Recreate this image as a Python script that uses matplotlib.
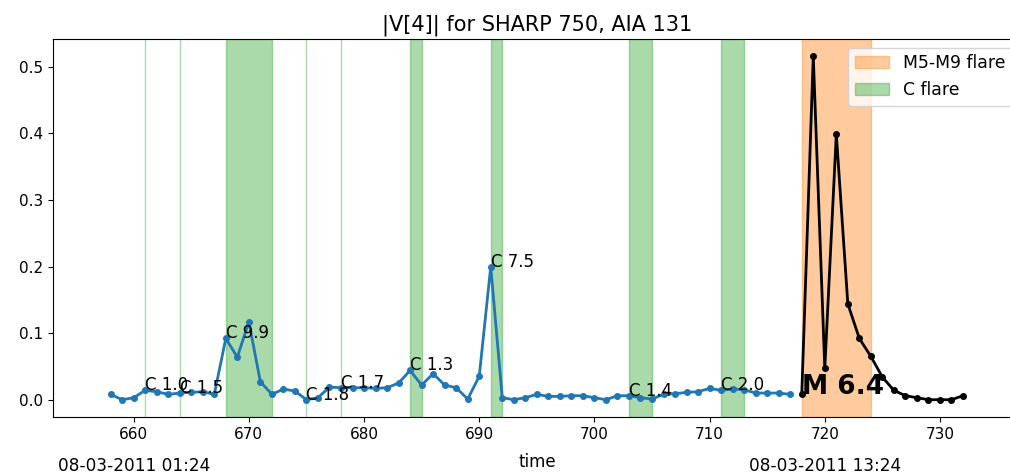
import matplotlib
matplotlib.use("Agg")
import matplotlib.pyplot as plt
import matplotlib.transforms as mtransforms
import numpy as np

# |V[4]| time series, one step = 12 minutes
quiet_t = np.arange(658, 718)
quiet_v = [0.008, 0.000, 0.003, 0.014, 0.012, 0.008, 0.010, 0.011, 0.012, 0.008,
           0.092, 0.064, 0.117, 0.027, 0.008, 0.016, 0.013, 0.000, 0.003, 0.019,
           0.018, 0.018, 0.018, 0.017, 0.018, 0.025, 0.044, 0.022, 0.039, 0.022,
           0.018, 0.001, 0.035, 0.200, 0.003, 0.000, 0.003, 0.008, 0.005, 0.005,
           0.006, 0.006, 0.003, 0.000, 0.006, 0.006, 0.003, 0.001, 0.008, 0.009,
           0.011, 0.012, 0.017, 0.014, 0.016, 0.015, 0.010, 0.010, 0.010, 0.008]

flare_t = np.arange(718, 733)
flare_v = [0.008, 0.516, 0.047, 0.399, 0.144, 0.092, 0.065, 0.034, 0.014, 0.006,
           0.003, 0.000, 0.000, 0.000, 0.006]

# C-class flares: start, end, class
c_start = [661, 664, 668, 675, 678, 684, 691, 703, 711]
c_end = [661, 664, 672, 675, 678, 685, 692, 705, 713]
c_class = ["C 1.0", "C 1.5", "C 9.9", "C 1.8", "C 1.7", "C 1.3", "C 7.5", "C 1.4", "C 2.0"]

# M-class flare
m_start, m_end, m_class = 718, 724, "M 6.4"

date_ticks = [660, 720]
date_labels = ["08-03-2011 01:24", "08-03-2011 13:24"]

fig = plt.figure(figsize=(10.1, 4.75), dpi=100)
# axes run slightly past the right edge of the figure
ax = fig.add_axes([0.0525, 0.1221, 0.958, 0.7958])

ax.axvspan(m_start, m_end, color="tab:orange", alpha=0.4, label="M5-M9 flare")
for i, (s, e) in enumerate(zip(c_start, c_end)):
    ax.axvspan(s, e, color="tab:green", alpha=0.4, label="C flare" if i == 0 else None)

ax.plot(quiet_t, quiet_v, "o-", color="tab:blue", markersize=4, lw=2)
ax.plot(flare_t, flare_v, "o-", color="black", markersize=4, lw=2)

# class labels sit on the curve at flare start
lookup = dict(zip(quiet_t, quiet_v))
for s, name in zip(c_start, c_class):
    ax.text(s, lookup[s], name, fontsize=12)
ax.text(m_start, flare_v[0], m_class, fontsize=19, fontweight="bold")

ax.set_xlim(653, 737)
ax.set_ylim(-0.026, 0.542)
ax.tick_params(labelsize=11)
ax.set_title("|V[4]| for SHARP 750, AIA 131", fontsize=15)

ax.set_xlabel("time", fontsize=12)
ax.xaxis.set_label_coords(0.5, -0.095)

trans = mtransforms.blended_transform_factory(ax.transData, ax.transAxes)
for x, lab in zip(date_ticks, date_labels):
    ax.text(x, -0.13, lab, transform=trans, ha="center", va="center", fontsize=12.2)

ax.legend(loc="upper right", fontsize=12.4)

fig.savefig("out.png", dpi=100)
